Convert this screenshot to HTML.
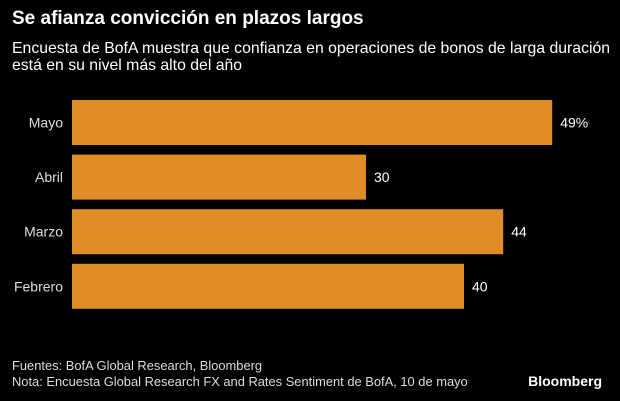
<!DOCTYPE html>
<html><head><meta charset="utf-8"><style>
body{margin:0;background:#000;width:620px;height:401px;overflow:hidden;font-family:"Liberation Sans",sans-serif;color:#fff}
.t{position:absolute;white-space:nowrap}
</style></head><body>
<div class="t" style="left:12px;top:8px;font-size:19px;font-weight:bold">Se afianza convicción en plazos largos</div>
<div class="t" style="left:12px;top:40px;font-size:15.8px;line-height:17px">Encuesta de BofA muestra que confianza en operaciones de bonos de larga duración<br>está en su nivel más alto del año</div>
<svg id="c" width="620" height="401" style="position:absolute;left:0;top:0"></svg>
<div class="t" style="left:12px;top:358px;font-size:12.9px;line-height:16px;color:#ddd">Fuentes: BofA Global Research, Bloomberg<br>Nota: Encuesta Global Research FX and Rates Sentiment de BofA, 10 de mayo</div>
<div class="t" style="right:18px;top:373px;font-size:14px;font-weight:bold">Bloomberg</div>
<script>
const categories=["Mayo","Abril","Marzo","Febrero"];
const values=[49,30,44,40];
const valueLabels=["49%","30","44","40"];
const svg=document.getElementById('c');
const NS='http://www.w3.org/2000/svg';
const x=v=>72+v*9.8;
const y=i=>100+i*54.6;
const bh=45;
categories.forEach((c,i)=>{
 const r=document.createElementNS(NS,'rect');
 
 
 r.setAttribute('x',x(0));r.setAttribute('y',y(i));r.setAttribute('width',x(values[i])-x(0));r.setAttribute('height',bh);r.setAttribute('fill','#E08D27');
 svg.appendChild(r);
 const l=document.createElementNS(NS,'text');
 
 
 l.setAttribute('x',63);l.setAttribute('y',y(i)+bh/2+5);l.setAttribute('text-anchor','end');l.setAttribute('fill','#ddd');l.setAttribute('font-size','14');l.textContent=c;
 svg.appendChild(l);
 const v=document.createElementNS(NS,'text');
 
 
 v.setAttribute('x',x(values[i])+8);v.setAttribute('y',y(i)+bh/2+5);v.setAttribute('fill','#fff');v.setAttribute('font-size','14');v.textContent=valueLabels[i];
 svg.appendChild(v);
});
</script>
</body></html>
